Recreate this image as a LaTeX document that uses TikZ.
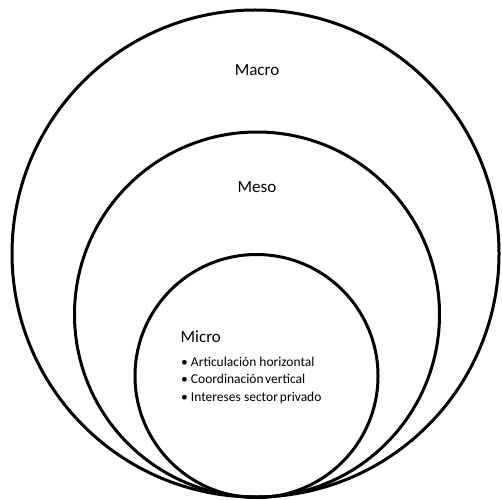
\documentclass[tikz,border=0pt]{standalone}
\usepackage{fontspec}
\setmainfont{Carlito}
\begin{document}
\begin{tikzpicture}[x=1pt,y=1pt,
  ring/.style={draw=black,line width=3pt},
  biglabel/.style={font=\fontsize{17}{20}\selectfont,inner sep=0pt},
  item/.style={font=\fontsize{13.5}{16}\selectfont,inner sep=0pt,anchor=base west}]
\useasboundingbox (0,0) rectangle (502,499);
\draw[ring] (255.5,245.5) circle (243.5);
\draw[ring] (257,184.5) circle (182.5);
\draw[ring] (256.5,123) circle (121.5);
\node[biglabel] (macro) at (257,429) {Macro};
\node[biglabel] (meso) at (257,312) {Meso};
\node[biglabel,anchor=base west] (micro) at (180.5,157) {Micro};
\node[item] (b1) at (181,133) {• Articulación horizontal};
\node[item] (b2) at (181,115.5) {• Coordinación\hspace{1.5pt}vertical};
\node[item] (b3) at (181,98) {• Intereses sector\hspace{2pt}privado};
\end{tikzpicture}
\end{document}
